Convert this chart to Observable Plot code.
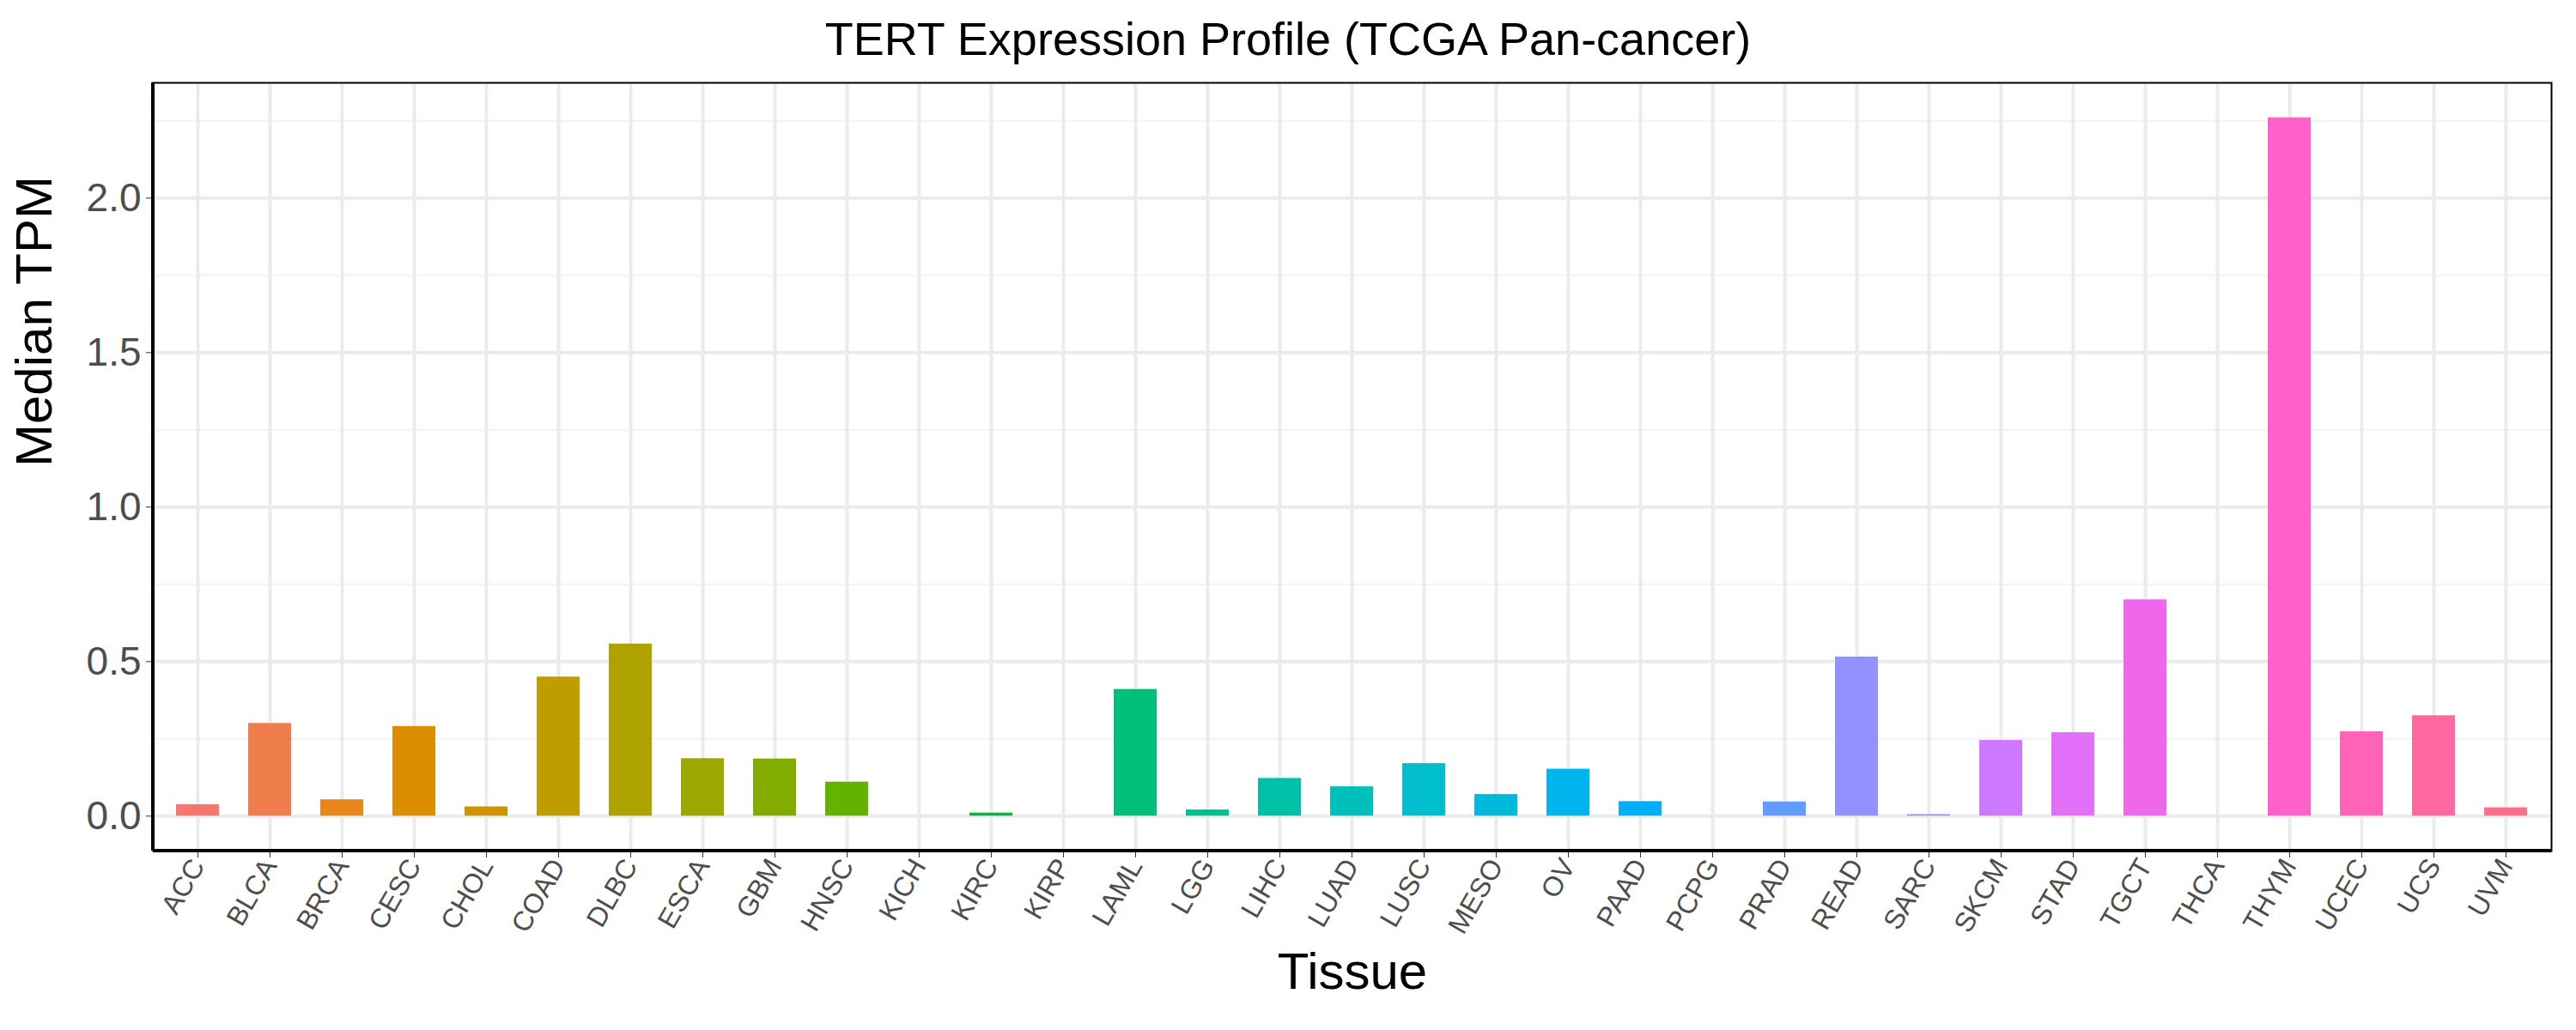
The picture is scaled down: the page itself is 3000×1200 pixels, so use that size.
<!DOCTYPE html>
<html><head><meta charset="utf-8">
<script src="https://cdn.jsdelivr.net/npm/d3@7"></script>
<script src="https://cdn.jsdelivr.net/npm/@observablehq/plot@0.6"></script>
<style>body{margin:0;background:#fff;font-family:"Liberation Sans",Arial,sans-serif}
#t{height:84px;line-height:90px;text-align:center;font-size:54px;color:#000;width:3000px}</style>
</head><body><div id="t">TERT Expression Profile (TCGA Pan-cancer)</div><div id="c"></div>
<script>
const tissues=["ACC","BLCA","BRCA","CESC","CHOL","COAD","DLBC","ESCA","GBM","HNSC","KICH","KIRC","KIRP","LAML","LGG","LIHC","LUAD","LUSC","MESO","OV","PAAD","PCPG","PRAD","READ","SARC","SKCM","STAD","TGCT","THCA","THYM","UCEC","UCS","UVM"];
const medianTPM=[0.037,0.30,0.053,0.29,0.03,0.45,0.557,0.186,0.185,0.11,0,0.01,0,0.41,0.02,0.122,0.095,0.17,0.07,0.152,0.047,0,0.046,0.515,0.005,0.245,0.27,0.70,0,2.26,0.273,0.325,0.027];
const yTicks=[0,0.5,1,1.5,2];
const yMinor=[0.25,0.75,1.25,1.75,2.25];
const data=tissues.map((t,i)=>({tissue:t,v:medianTPM[i]}));
function polarLuv(L,C,H){
  const h=H*Math.PI/180,u=C*Math.cos(h),v=C*Math.sin(h);
  const Xn=95.047,Yn=100,Zn=108.883,den=Xn+15*Yn+3*Zn,un=4*Xn/den,vn=9*Yn/den;
  const Y=Yn*Math.pow((L+16)/116,3);
  const up=u/(13*L)+un,vp=v/(13*L)+vn;
  const X=Y*9*up/(4*vp),Z=Y*(12-3*up-20*vp)/(4*vp);
  const x=X/100,y=Y/100,z=Z/100;
  let r=3.2404542*x-1.5371385*y-0.4985314*z,g=-0.9692660*x+1.8760108*y+0.0415560*z,b=0.0556434*x-0.2040259*y+1.0572252*z;
  const gam=c=>{c=Math.max(0,Math.min(1,c));return c<=0.0031308?12.92*c:1.055*Math.pow(c,1/2.4)-0.055;};
  return d3.rgb(gam(r)*255,gam(g)*255,gam(b)*255).formatHex();
}
const colors=tissues.map((t,i)=>polarLuv(65,100,15+i*360/tissues.length));
const ch=Plot.plot({
 width:3000,height:1116,marginTop:12,marginBottom:209,marginLeft:178,marginRight:29,
 style:{fontFamily:"Liberation Sans, Arial, sans-serif",background:"#fff"},
 x:{domain:tissues,paddingInner:0.4,paddingOuter:0.3,label:null},
 y:{domain:[-0.113,2.373],label:null},
 color:{domain:tissues,range:colors},
 marks:[
  Plot.ruleY(yMinor,{stroke:"#f2f2f2",strokeWidth:2}),
  Plot.ruleY(yTicks,{stroke:"#ebebeb",strokeWidth:4}),
  Plot.ruleX(tissues,{x:d=>d,stroke:"#ebebeb",strokeWidth:4}),
  Plot.barY(data,{x:"tissue",y:"v",fill:"tissue"}),
  Plot.frame({stroke:"#000",strokeWidth:2}),
  Plot.axisY({ticks:yTicks,tickFormat:d3.format(".1f"),fontSize:46,tickSize:8,tickPadding:6,color:"#4d4d4d",stroke:"#333",label:null}),
  Plot.axisX({tickRotate:-60,fontSize:32,tickSize:8,tickPadding:4,color:"#4d4d4d",stroke:"#333",label:null}),
  Plot.text(["Median TPM"],{frameAnchor:"left",dx:-138,rotate:-90,fontSize:60,fill:"#000"}),
  Plot.text(["Tissue"],{frameAnchor:"bottom",dy:160,fontSize:60,fill:"#000"})
 ]
});
const svg=d3.select(ch);
svg.append("line").attr("x1",178).attr("x2",178).attr("y1",12).attr("y2",907).attr("stroke","#000").attr("stroke-width",4);
svg.append("line").attr("x1",178).attr("x2",2971).attr("y1",907).attr("y2",907).attr("stroke","#000").attr("stroke-width",4);
document.getElementById("c").append(ch);
</script></body></html>
